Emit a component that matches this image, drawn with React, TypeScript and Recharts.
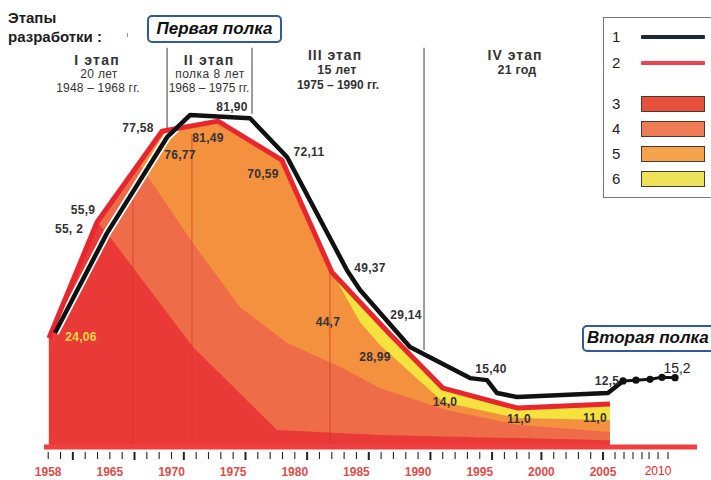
import { Area, ComposedChart, Line, ReferenceDot, ReferenceLine, XAxis, YAxis } from "recharts";

const FONT = '"Liberation Sans", Arial, Helvetica, sans-serif';

// [year, value] pairs
// 1 – black line
const totalProduction: [number, number][] = [
  [1960.55, 28.3],
  [1964.77, 53.1],
  [1969.64, 76.9],
  [1971.5, 82.4],
  [1976.37, 81.6],
  [1979.37, 72.0],
  [1984.23, 43.9],
  [1985.29, 39.0],
  [1989.34, 24.8],
  [1994.21, 17.1],
  [1995.59, 16.6],
  [1996.4, 13.4],
  [1998.02, 12.4],
  [2005.4, 13.4],
  [2006.62, 16.4],
];
// "second plateau" dotted tail
const tailProduction: [number, number][] = [
  [2006.62, 16.4],
  [2007.67, 16.6],
  [2008.81, 16.8],
  [2009.78, 17.3],
  [2010.84, 17.2],
];
// 2 – red line (also the top of band 6)
const designProduction: [number, number][] = [
  [1960.06, 27.0],
  [1963.96, 55.8],
  [1969.23, 78.4],
  [1973.77, 80.9],
  [1978.96, 71.2],
  [1983.01, 43.4],
  [1987.72, 28.0],
  [1992.02, 14.6],
  [1998.02, 9.7],
  [2005.56, 10.7],
];
// top of band 5
const band5Top: [number, number][] = [
  [1960.06, 27.0],
  [1963.96, 55.8],
  [1969.23, 78.4],
  [1973.77, 80.9],
  [1978.96, 71.2],
  [1983.01, 43.4],
  [1985.29, 31.0],
  [1986.91, 25.3],
  [1992.02, 11.2],
  [1998.02, 7.2],
  [2005.56, 6.7],
];
// top of band 4
const band4Top: [number, number][] = [
  [1960.06, 27.0],
  [1963.96, 55.8],
  [1967.45, 70.0],
  [1971.74, 50.6],
  [1975.56, 34.7],
  [1979.37, 25.8],
  [1983.66, 19.9],
  [1986.91, 14.6],
  [1992.34, 9.2],
  [1998.02, 5.5],
  [2005.56, 3.7],
];
// top of band 3
const band3Top: [number, number][] = [
  [1960.06, 27.0],
  [1963.96, 55.8],
  [1964.77, 53.1],
  [1971.74, 24.8],
  [1978.56, 4.2],
  [1986.91, 3.0],
  [2005.56, 1.7],
];

const labelTickYears = [1960, 1965, 1970, 1975, 1980, 1985, 1990, 1995, 2000, 2005];
const labelTickTexts = ["1958", "1965", "1970", "1975", "1980", "1985", "1990", "1995", "2000", "2005"];
const lateTicks = [2005.97, 2006.7, 2007.43, 2008.16, 2008.73, 2009.46, 2010.27];
const lateLabelTick = 2009.46;
const lateLabelText = "2010";
const boldTickYears = [1962, 1967, 1971, 1976, 1981, 1986, 1991, 1996, 2000, 2005];

const valueLabels = [
  { text: "77,58", year: 1967.28, value: 79.2 },
  { text: "81,90", year: 1974.91, value: 84.4 },
  { text: "81,49", year: 1972.96, value: 76.7 },
  { text: "76,77", year: 1970.69, value: 72.5 },
  { text: "70,59", year: 1977.42, value: 67.8 },
  { text: "72,11", year: 1981.15, value: 73.2 },
  { text: "55,9", year: 1962.82, value: 58.8 },
  { text: "55, 2", year: 1961.69, value: 54.1 },
  { text: "24,06", year: 1962.66, value: 27.3, kind: "yellow" },
  { text: "49,37", year: 1986.1, value: 44.4 },
  { text: "44,7", year: 1982.69, value: 31.0 },
  { text: "29,14", year: 1989.02, value: 32.8 },
  { text: "28,99", year: 1986.5, value: 22.3 },
  { text: "15,40", year: 1995.91, value: 19.4 },
  { text: "14,0", year: 1992.18, value: 11.2 },
  { text: "11,0", year: 1998.18, value: 7.0 },
  { text: "11,0", year: 2004.35, value: 7.2 },
  { text: "12,5", year: 2005.32, value: 16.4 },
  { text: "15,2", year: 2011.0, value: 19.6, kind: "plain" },
];

const stageDividers = [
  { year: 1969.64, from: 79.2, to: 99.1 },
  { year: 1976.53, from: 82.7, to: 99.1 },
  { year: 1990.48, from: 23.6, to: 99.1 },
];
const innerDividers = [
  { year: 1966.88, top: 63.5 },
  { year: 1971.66, top: 77.7 },
  { year: 1982.85, top: 43.5 },
];

const stageLines = [
  { text: "I этап", cx: 97, top: 52.5, size: 14, bold: true, spacing: 1.2 },
  { text: "20 лет", cx: 99, top: 68.3, size: 12, bold: false, spacing: 0.3 },
  { text: "1948 – 1968 гг.", cx: 98, top: 81.7, size: 12, bold: false, spacing: 0.2 },
  { text: "II этап", cx: 209, top: 52.5, size: 14, bold: true, spacing: 1.2 },
  { text: "полка 8 лет", cx: 210, top: 68.3, size: 12, bold: false, spacing: 0.5 },
  { text: "1968 – 1975 гг.", cx: 209, top: 81.7, size: 12, bold: false, spacing: 0 },
  { text: "III этап", cx: 335, top: 47.5, size: 14, bold: true, spacing: 1 },
  { text: "15 лет", cx: 337, top: 63.5, size: 12.5, bold: true, spacing: 0.2 },
  { text: "1975 – 1990 гг.", cx: 338, top: 78.5, size: 12, bold: true, spacing: 0 },
  { text: "IV этап", cx: 515, top: 47.5, size: 14, bold: true, spacing: 1 },
  { text: "21 год", cx: 517, top: 63.5, size: 12.5, bold: true, spacing: 0.2 },
];

const legendItems = [
  { label: "1", kind: "line", color: "#1d2838", top: 35, height: 4 },
  { label: "2", kind: "line", color: "#f0424c", top: 61, height: 4 },
  { label: "3", kind: "box", color: "#e8503e", top: 96, height: 16 },
  { label: "4", kind: "box", color: "#f07c57", top: 121, height: 16 },
  { label: "5", kind: "box", color: "#f4a24c", top: 146, height: 16 },
  { label: "6", kind: "box", color: "#ede25a", top: 171, height: 16 },
];

const X_MIN = 1959.335;
const X_MAX = 2012.863;

const seriesByKey: Record<string, [number, number][]> = {
  total: totalProduction,
  tail: tailProduction,
  design: designProduction,
  band5: band5Top,
  band4: band4Top,
  band3: band3Top,
};

function buildRows() {
  const rows = new Map<number, Record<string, number | null>>();
  const keys = Object.keys(seriesByKey);
  keys.forEach((key) => {
    seriesByKey[key].forEach(([year, value]) => {
      const row = rows.get(year) ?? { year };
      row[key] = value;
      rows.set(year, row);
    });
  });
  return [...rows.values()]
    .sort((a, b) => (a.year as number) - (b.year as number))
    .map((row) => {
      keys.forEach((key) => {
        if (row[key] === undefined) row[key] = null;
      });
      return row;
    });
}

const rows = buildRows();

const axisTicks = [
  ...Array.from({ length: 46 }, (_, i) => 1960 + i),
  ...lateTicks,
];

function YearTick(props: any) {
  const { x, y, payload } = props;
  const year = payload.value as number;
  const bold = boldTickYears.includes(year);
  const labelIndex = labelTickYears.indexOf(year);
  return (
    <g>
      <line x1={x} x2={x} y1={y + 5} y2={y + (bold ? 13 : 12)} stroke="#222" strokeWidth={bold ? 2 : 1.1} />
      {labelIndex >= 0 && (
        <text x={x} y={y + 29} textAnchor="middle" fontFamily={FONT} fontSize={12} fontWeight={700} fill="#e04c4a">
          {labelTickTexts[labelIndex]}
        </text>
      )}
      {year === lateLabelTick && (
        <text x={x} y={y + 28} textAnchor="middle" fontFamily={FONT} fontSize={12} fill="#ee2424">
          {lateLabelText}
        </text>
      )}
    </g>
  );
}

function ValueText(props: any, text: string, kind?: string) {
  const plain = kind === "plain";
  return (
    <text
      x={props.cx}
      y={props.cy}
      textAnchor="middle"
      dominantBaseline="central"
      fontFamily={FONT}
      fontSize={plain ? 14 : 12}
      fontWeight={plain ? 400 : 700}
      letterSpacing={plain ? 0 : 0.3}
      fill={kind === "yellow" ? "#f6d844" : plain ? "#222" : "#333"}
    >
      {text}
    </text>
  );
}

const boxStyle = {
  position: "absolute" as const,
  boxSizing: "border-box" as const,
  border: "2.5px solid #2d5b9b",
  borderRadius: 5,
  background: "#fff",
  fontWeight: 700,
  fontStyle: "italic" as const,
  fontSize: 17,
  color: "#111",
  whiteSpace: "nowrap" as const,
};

export default function App() {
  return (
    <div style={{ position: "absolute", left: 0, top: 0, width: 711, height: 480, overflow: "hidden", background: "#fff", fontFamily: FONT }}>
      <ComposedChart width={711} height={480} data={rows} margin={{ top: 20, right: 11, bottom: 3, left: 40 }}>
        <XAxis
          dataKey="year"
          type="number"
          domain={[X_MIN, X_MAX]}
          allowDataOverflow
          ticks={axisTicks}
          interval={0}
          tick={(p: any) => <YearTick {...p} />}
          tickSize={0}
          tickMargin={0}
          tickLine={false}
          axisLine={false}
          height={30}
        />
        <YAxis type="number" domain={[0, 106]} allowDataOverflow hide />

        <Area dataKey="design" fill="#f6e23e" fillOpacity={1} stroke="none" connectNulls dot={false} activeDot={false} isAnimationActive={false} />
        <Area dataKey="band5" fill="#f3913f" fillOpacity={1} stroke="none" connectNulls dot={false} activeDot={false} isAnimationActive={false} />
        <Area dataKey="band4" fill="#ee6c48" fillOpacity={1} stroke="none" connectNulls dot={false} activeDot={false} isAnimationActive={false} />
        <Area dataKey="band3" fill="#ea3a37" fillOpacity={1} stroke="none" connectNulls dot={false} activeDot={false} isAnimationActive={false} />

        {innerDividers.map((d) => (
          <ReferenceLine key={`in-${d.year}`} segment={[{ x: d.year, y: 0 }, { x: d.year, y: d.top }]} stroke="#d2342a" strokeWidth={1} strokeOpacity={0.7} />
        ))}
        {stageDividers.map((d) => (
          <ReferenceLine key={`st-${d.year}`} segment={[{ x: d.year, y: d.from }, { x: d.year, y: d.to }]} stroke="#6a6a6a" strokeWidth={1.3} />
        ))}
        <ReferenceLine segment={[{ x: 1959.66, y: 0 }, { x: 2012.62, y: 0 }]} stroke="#ef3f40" strokeWidth={5} />

        <Line dataKey="total" stroke="#fff" strokeWidth={8} strokeLinejoin="round" connectNulls dot={false} activeDot={false} isAnimationActive={false} />
        <Line dataKey="design" stroke="#e8262e" strokeWidth={5} strokeLinejoin="round" connectNulls dot={false} activeDot={false} isAnimationActive={false} />
        <Line dataKey="total" stroke="#111" strokeWidth={4.5} strokeLinejoin="round" connectNulls dot={false} activeDot={false} isAnimationActive={false} />
        <Line
          dataKey="tail"
          stroke="#111"
          strokeWidth={3}
          connectNulls
          dot={{ r: 3.6, fill: "#111", stroke: "#111", strokeWidth: 0 }}
          activeDot={false}
          isAnimationActive={false}
        />

        {valueLabels.map((l, i) => (
          <ReferenceDot key={`lbl-${i}`} x={l.year} y={l.value} r={1} shape={(p: any) => ValueText(p, l.text, l.kind)} />
        ))}
      </ComposedChart>

      <div style={{ position: "absolute", left: 8, top: 7.5, fontSize: 15, fontWeight: 700, lineHeight: "19px", color: "#1c1c1c" }}>
        Этапы
        <br />
        разработки :
      </div>
      <div style={{ position: "absolute", left: 127, top: 33, width: 1, height: 4, background: "#999" }} />

      <div style={{ ...boxStyle, left: 147, top: 15, width: 135, height: 28, lineHeight: "23px", textAlign: "center" }}>Первая полка</div>
      <div style={{ ...boxStyle, left: 582, top: 325, width: 140, height: 27, lineHeight: "22px", paddingLeft: 3 }}>Вторая полка</div>

      {stageLines.map((s, i) => (
        <div
          key={`stage-${i}`}
          style={{
            position: "absolute",
            left: s.cx - 70,
            width: 140,
            top: s.top,
            textAlign: "center",
            fontSize: s.size,
            lineHeight: 1,
            fontWeight: s.bold ? 700 : 400,
            letterSpacing: s.spacing,
            color: "#333",
            whiteSpace: "nowrap",
          }}
        >
          {s.text}
        </div>
      ))}

      <div style={{ position: "absolute", left: 603, top: 17, width: 120, height: 181, boxSizing: "border-box", border: "1px solid #777", background: "#fff" }} />
      {legendItems.map((item) => (
        <div key={item.label}>
          <div
            style={{
              position: "absolute",
              left: 612,
              top: item.top + item.height / 2 - 9,
              fontSize: 15,
              lineHeight: "18px",
              color: "#222",
            }}
          >
            {item.label}
          </div>
          <div
            style={{
              position: "absolute",
              left: 641,
              top: item.top,
              width: 64,
              height: item.height,
              boxSizing: "border-box",
              background: item.color,
              border: item.kind === "box" ? "1px solid #4a3a30" : "none",
              borderRadius: item.kind === "line" ? 1 : 0,
            }}
          />
        </div>
      ))}
    </div>
  );
}
